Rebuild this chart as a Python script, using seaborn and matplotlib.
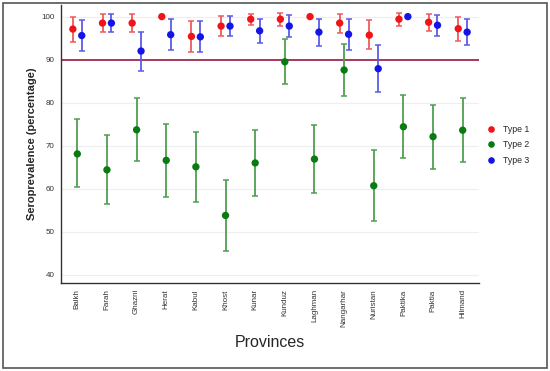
import numpy as np
import pandas as pd
import matplotlib
matplotlib.use("Agg")
import matplotlib.pyplot as plt
from matplotlib.patches import Rectangle
import seaborn as sns

# -----------------------------
# Data
# -----------------------------
provinces = ["Balkh", "Farah", "Ghazni", "Herat", "Kabul", "Khost", "Kunar",
             "Kunduz", "Laghman", "Nangarhar", "Nuristan", "Paktika", "Paktia", "Hilmand"]

type1 = [97.1, 98.5, 98.5, 100.0, 95.4, 97.8, 99.4, 99.4, 100.0, 98.5, 95.7, 99.4, 98.7, 97.2]
type1_lo = [94.1, 96.5, 96.5, 100.0, 91.7, 95.5, 98.1, 97.8, 100.0, 96.1, 92.4, 97.8, 96.7, 94.4]
type1_hi = [100.0, 100.6, 100.6, 100.0, 99.0, 100.2, 100.6, 100.8, 100.0, 100.6, 99.1, 100.8, 100.6, 100.0]

type2 = [68.1, 64.4, 73.7, 66.6, 65.1, 53.8, 66.0, 89.5, 66.9, 87.6, 60.7, 74.4, 72.1, 73.6]
type2_lo = [60.4, 56.4, 66.4, 58.2, 56.9, 45.6, 58.4, 84.3, 59.0, 81.6, 52.6, 67.2, 64.7, 66.2]
type2_hi = [76.2, 72.5, 81.1, 75.1, 73.3, 62.0, 73.7, 94.7, 74.8, 93.6, 68.9, 81.8, 79.5, 81.0]

type3 = [95.6, 98.5, 92.0, 95.8, 95.3, 97.8, 96.7, 97.8, 96.4, 95.9, 87.9, 100.0, 98.0, 96.4]
type3_lo = [92.0, 96.5, 87.4, 92.3, 91.7, 95.5, 93.8, 95.2, 93.2, 92.3, 82.4, 100.0, 95.6, 93.4]
type3_hi = [99.1, 100.6, 96.5, 99.4, 99.0, 100.2, 99.4, 100.3, 99.5, 99.5, 93.4, 100.0, 100.3, 99.5]

threshold = 90

# -----------------------------
# Long table
# -----------------------------
offsets = {"Type 1": -0.15, "Type 2": 0.0, "Type 3": 0.15}
rows = []
for name, vals, lo, hi in [("Type 1", type1, type1_lo, type1_hi),
                           ("Type 2", type2, type2_lo, type2_hi),
                           ("Type 3", type3, type3_lo, type3_hi)]:
    for i, p in enumerate(provinces):
        rows.append({"Province": p, "pos": i + offsets[name], "Type": name,
                     "value": vals[i], "lo": lo[i], "hi": hi[i]})
df = pd.DataFrame(rows)

point_colors = {"Type 1": "#f01418", "Type 2": "#0b7a12", "Type 3": "#1414e6"}
bar_colors = {"Type 1": "#f05a5c", "Type 2": "#4f9e4f", "Type 3": "#5a5ae8"}

# -----------------------------
# Plot
# -----------------------------
sns.set_style("white")
plt.rcParams["font.family"] = ["Liberation Sans", "DejaVu Sans"]

fig = plt.figure(figsize=(5.5, 3.71), dpi=100)
ax = fig.add_axes([61 / 550, 1 - 283 / 371, (479 - 61) / 550, (283 - 5) / 371])

for t, g in df.groupby("Type"):
    ax.errorbar(g["pos"], g["value"],
                yerr=[g["value"] - g["lo"], g["hi"] - g["value"]],
                fmt="none", ecolor=bar_colors[t], elinewidth=1.3,
                capsize=2.2, capthick=1.1, zorder=2)

sns.scatterplot(data=df, x="pos", y="value", hue="Type", palette=point_colors,
                s=28, edgecolor="none", zorder=3, ax=ax)

ax.axhline(threshold, color="#a33a5c", linewidth=1.4, zorder=1)

ax.set_xlim(-0.55, len(provinces) - 0.45)
ax.set_ylim(38.1, 102.7)
ax.set_yticks([40, 50, 60, 70, 80, 90, 100])
ax.set_xticks(range(len(provinces)))
ax.set_xticklabels(provinces, rotation=90, fontsize=5.8, color="#333333")
ax.tick_params(axis="y", labelsize=5.8, labelcolor="#333333")
ax.tick_params(axis="both", length=2.5, width=0.8, color="#333333", pad=2)
ax.yaxis.grid(True, color="#eef0ef", linewidth=0.9)
ax.set_axisbelow(True)

for s in ["top", "right"]:
    ax.spines[s].set_visible(False)
for s in ["left", "bottom"]:
    ax.spines[s].set_color("#333333")
    ax.spines[s].set_linewidth(1.0)

ax.set_xlabel("Provinces", fontsize=11.5, labelpad=6)
ax.set_ylabel("Seroprevalence (percentage)", fontsize=8, fontweight="bold", labelpad=3)

leg = ax.legend(loc="center left", bbox_to_anchor=(0.99, 0.497), frameon=False,
                fontsize=6.3, handletextpad=0.3, labelspacing=0.72, markerscale=0.9)

# outer frame around the whole figure
fig.patches.append(Rectangle((3 / 550, 3 / 371), 544 / 550, 365 / 371,
                             transform=fig.transFigure, fill=False,
                             edgecolor="#555555", linewidth=1.2))

plt.savefig("out.png", dpi=100)
plt.close()
